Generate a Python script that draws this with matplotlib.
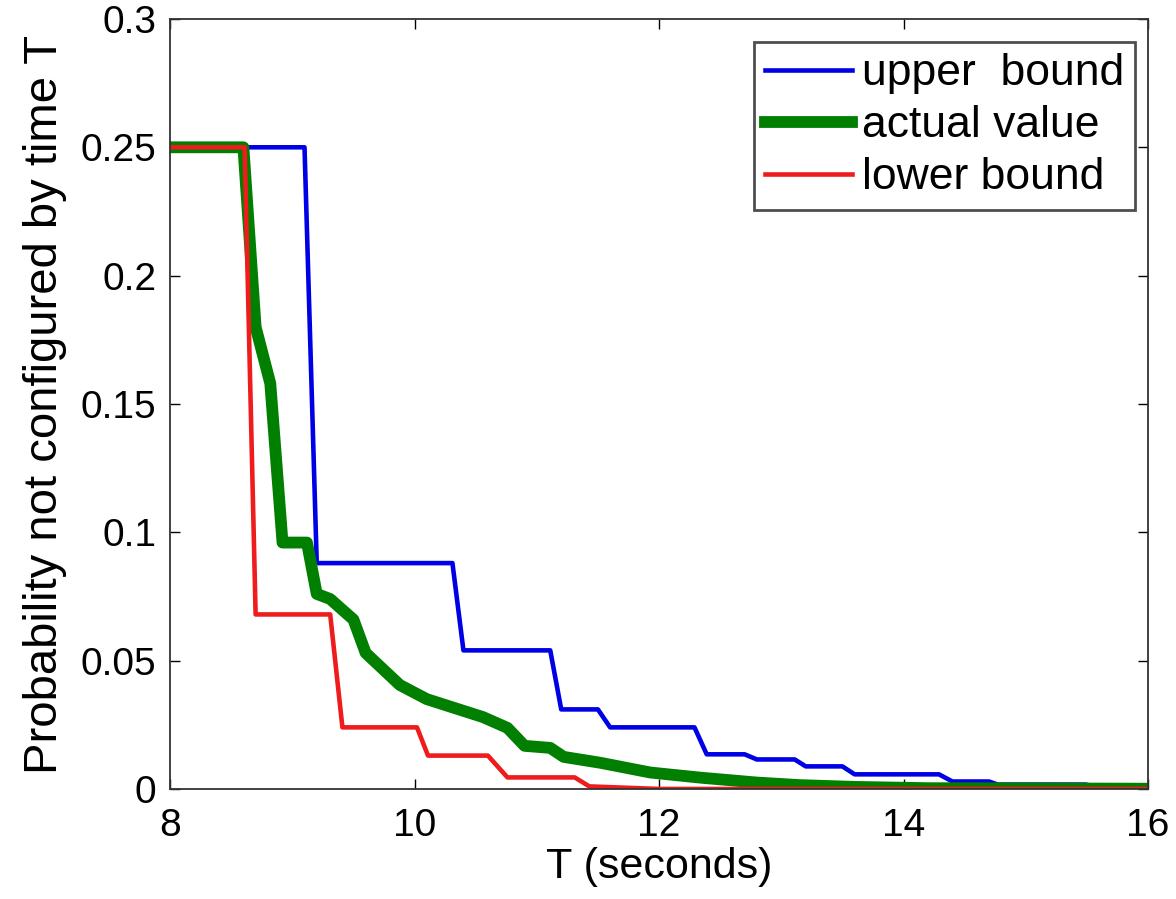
import numpy as np
import matplotlib
matplotlib.use('Agg')
import matplotlib.pyplot as plt

# upper bound (blue)
upper_t = [8.0, 9.1, 9.2, 10.31, 10.40, 11.11, 11.2, 11.5, 11.6, 12.29, 12.39,
           12.70, 12.80, 13.11, 13.2, 13.5, 13.6, 14.29, 14.4, 14.7, 14.77,
           15.49, 15.6, 16.0]
upper_p = [0.25, 0.25, 0.088, 0.088, 0.054, 0.054, 0.031, 0.031, 0.024, 0.024, 0.0135,
           0.0135, 0.0115, 0.0115, 0.0088, 0.0088, 0.0057, 0.0057, 0.0029, 0.0029, 0.0017,
           0.0017, 0.0006, 0.0006]

# actual value (green)
actual_t = [8.0, 8.6, 8.70, 8.82, 8.92, 9.12, 9.20, 9.31, 9.50, 9.60, 9.88, 10.10,
            10.56, 10.76, 10.90, 11.11, 11.22, 11.52, 11.93, 12.34, 12.8, 13.15,
            13.6, 14.2, 16.0]
actual_p = [0.25, 0.25, 0.18, 0.158, 0.096, 0.096, 0.076, 0.074, 0.066, 0.053, 0.0405, 0.035,
            0.028, 0.0238, 0.0168, 0.016, 0.0125, 0.0102, 0.0064, 0.0044, 0.0025, 0.0015,
            0.0008, 0.0003, 0.0001]

# lower bound (red)
lower_t = [8.0, 8.61, 8.70, 9.31, 9.41, 10.02, 10.11, 10.6, 10.76, 11.31, 11.43,
           12.0, 16.0]
lower_p = [0.25, 0.25, 0.068, 0.068, 0.024, 0.024, 0.013, 0.013, 0.0045, 0.0045, 0.001,
           0.0, 0.0]

plt.rcParams['font.family'] = ['Liberation Sans', 'DejaVu Sans']

fig = plt.figure(figsize=(11.76, 8.99), dpi=100)
ax = fig.add_axes([0.1446, 0.1224, 0.8316, 0.8565])

ax.plot(upper_t, upper_p, color='#0000e6', lw=3.3, label='upper  bound')
ax.plot(actual_t, actual_p, color='#007f00', lw=8.5, label='actual value')
ax.plot(lower_t, lower_p, color='#ee1c1c', lw=3.3, label='lower bound')

ax.set_xlim(8, 16)
ax.set_ylim(0, 0.3)
ax.set_xticks([8, 10, 12, 14, 16])
ax.set_yticks([0, 0.05, 0.1, 0.15, 0.2, 0.25, 0.3])
ax.set_yticklabels(['0', '0.05', '0.1', '0.15', '0.2', '0.25', '0.3'])
ax.tick_params(direction='in', length=7, width=1, top=True, right=True,
               labelsize=28)
ax.tick_params(axis='x', pad=14)
ax.tick_params(axis='y', pad=10)
for s in ax.spines.values():
    s.set_linewidth(1.3)
    s.set_color('#333333')

ax.set_xlabel('T (seconds)', fontsize=31, labelpad=2)
ax.set_ylabel('Probability not configured by time T', fontsize=34, labelpad=10)

leg = ax.legend(loc='upper right', bbox_to_anchor=(0.9867, 0.970), fontsize=32,
                fancybox=False, edgecolor='#222222', handlelength=1.95,
                handletextpad=0.22, borderaxespad=0, labelspacing=0.25,
                borderpad=0.25)
leg.get_frame().set_linewidth(2)

fig.savefig('out.png', dpi=100)
